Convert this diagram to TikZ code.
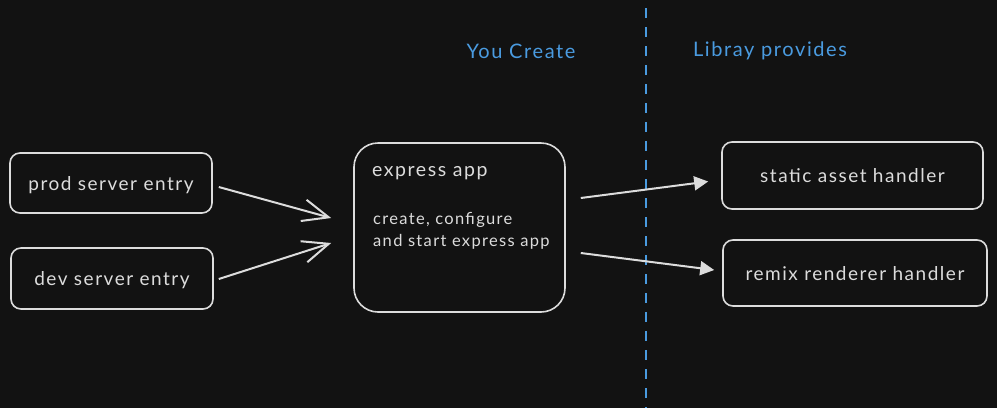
\documentclass[tikz,border=0pt]{standalone}
\usepackage{fontspec}
\setmainfont{Lato}[LetterSpace=8]
\usetikzlibrary{arrows.meta,calc}
\definecolor{bg}{HTML}{121212}
\definecolor{ink}{HTML}{DCDCDC}
\definecolor{accent}{HTML}{4A9BE0}
\tikzset{
  box/.style={draw=ink, line width=1.6pt, rounded corners=10pt, text=ink, font=\fontsize{19}{22}\selectfont, inner sep=0pt, text depth=0pt},
  bigbox/.style={draw=ink, line width=1.6pt, rounded corners=24pt, inner sep=0pt},
  txt/.style={text=ink, inner sep=0pt, anchor=west},
  openarrow/.style={draw=ink, line width=2pt, -{Straight Barb[length=26pt,width=22pt,line width=2pt]}},
  fillarrow/.style={draw=ink, line width=2pt, -{Triangle[length=14pt,width=14pt]}},
  heading/.style={text=accent, font=\fontsize{20}{24}\selectfont, inner sep=0pt}
}
\begin{document}
\begin{tikzpicture}[x=1pt,y=-1pt]
\fill[bg] (0,0) rectangle (997,408);
\useasboundingbox (0,0) rectangle (997,408);
\node[box, minimum width=202pt, minimum height=60pt] (prod) at (111,183) {prod server entry};
\node[box, minimum width=202pt, minimum height=61pt] (dev) at (112,278.5) {dev server entry};
\node[bigbox, minimum width=211pt, minimum height=169pt] (express) at (459.5,227.5) {};
\node[txt, font=\fontsize{19.5}{23}\selectfont] (extitle) at (372,173) {express app};
\node[txt, font=\fontsize{16.5}{22}\selectfont, align=left] (exdesc) at (373,231) {create, configure\\and start express app};
\node[box, minimum width=261pt, minimum height=67pt] (static) at (852.5,175.5) {static asset handler};
\node[box, minimum width=264pt, minimum height=66pt] (remix) at (855,273) {remix renderer handler};
\coordinate (divtop) at (646,8);
\coordinate (divbot) at (646,408);
\draw[accent, line width=2pt, dash pattern=on 10pt off 9pt] (divtop) -- (divbot);
\node[heading] (you) at (521,51) {You Create};
\node[heading] (lib) at (770,51) {Libray provides};
\draw[openarrow] ($(prod.east)+(6,4)$) -- ($(express.west)+(-22,-9.5)$);
\draw[openarrow] ($(dev.east)+(5,0.5)$) -- ($(express.west)+(-22,15.5)$);
\draw[fillarrow] ($(express.east)+(15,-29.5)$) -- ($(static.west)+(-13,6)$);
\draw[fillarrow] ($(express.east)+(15,25.5)$) -- ($(remix.west)+(-8,-3)$);
\end{tikzpicture}
\end{document}
